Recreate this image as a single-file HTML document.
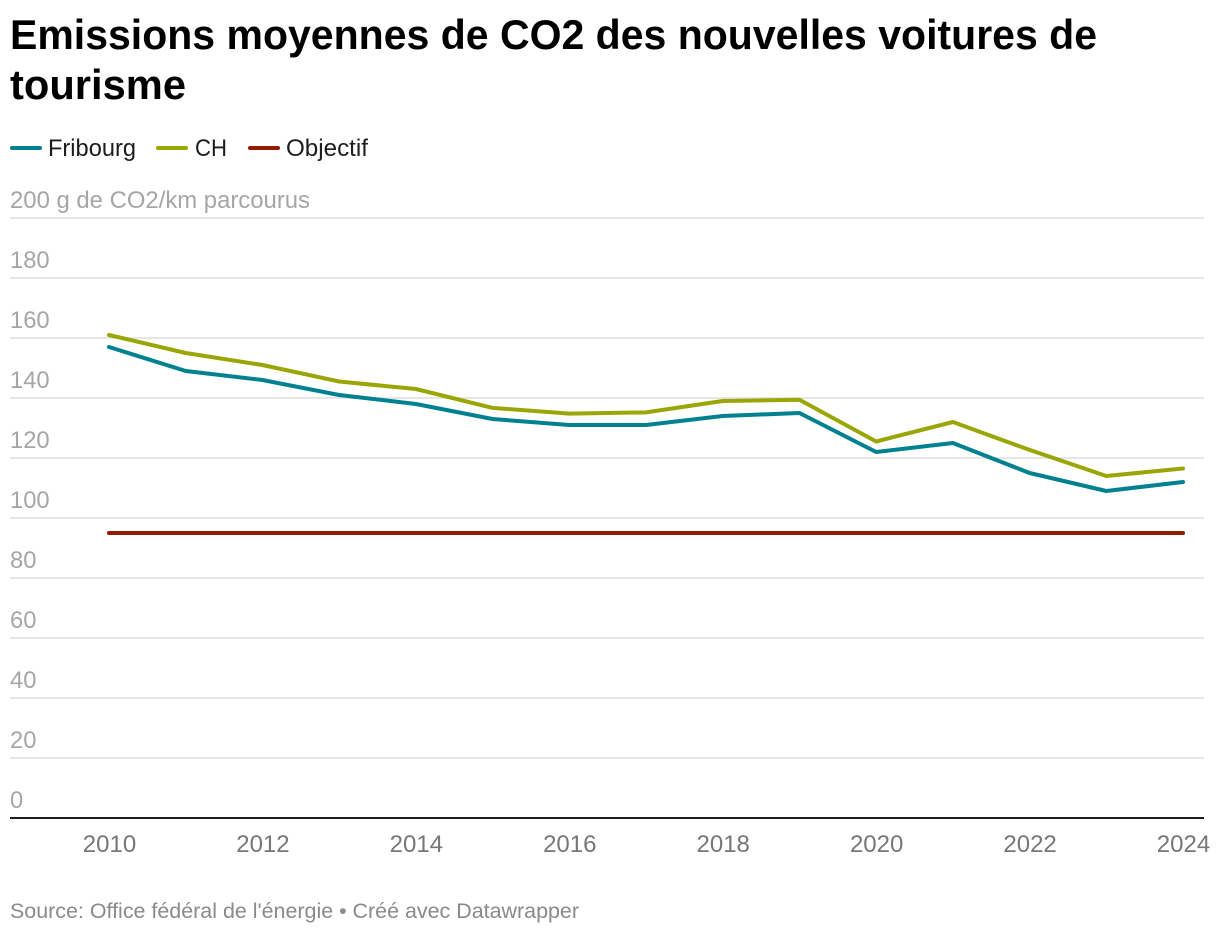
<!DOCTYPE html>
<html lang="fr">
<head>
<meta charset="utf-8">
<title>Emissions moyennes de CO2 des nouvelles voitures de tourisme</title>
<style>
html,body{margin:0;padding:0;background:#fff;width:1220px;height:934px;overflow:hidden}
svg{display:block;font-family:"Liberation Sans",sans-serif}
</style>
</head>
<body>
<svg id="chart" xmlns="http://www.w3.org/2000/svg" width="1220" height="934" viewBox="0 0 1220 934">
  <text x="10" y="49" font-size="42" font-weight="700" fill="#000" textLength="1087" lengthAdjust="spacingAndGlyphs">Emissions moyennes de CO2 des nouvelles voitures de</text>
  <text x="10" y="99" font-size="42" font-weight="700" fill="#000" textLength="176" lengthAdjust="spacingAndGlyphs">tourisme</text>

  <g>
    <line x1="12" y1="148" x2="40" y2="148" stroke="#00818f" stroke-width="4" stroke-linecap="round"/>
    <text x="48" y="156" font-size="24" fill="#1d1d1d" textLength="88" lengthAdjust="spacingAndGlyphs">Fribourg</text>
    <line x1="158" y1="148" x2="186" y2="148" stroke="#99a606" stroke-width="4" stroke-linecap="round"/>
    <text x="195" y="156" font-size="24" fill="#1d1d1d" textLength="32" lengthAdjust="spacingAndGlyphs">CH</text>
    <line x1="250" y1="148" x2="278" y2="148" stroke="#911d00" stroke-width="4" stroke-linecap="round"/>
    <text x="286" y="156" font-size="24" fill="#1d1d1d" textLength="82" lengthAdjust="spacingAndGlyphs">Objectif</text>
  </g>

  <g id="grid"></g>
  <g id="yLabels"></g>
  <text x="10" y="208" font-size="24" fill="#a6a6a6" textLength="300" lengthAdjust="spacingAndGlyphs">200 g de CO2/km parcourus</text>
  <g id="series"></g>
  <line x1="10" y1="818" x2="1204" y2="818" stroke="#1d1d1d" stroke-width="2"/>
  <g id="xLabels"></g>

  <text x="10" y="918" font-size="21.5" fill="#8a8a8a" textLength="569" lengthAdjust="spacingAndGlyphs">Source: Office fédéral de l'énergie • Créé avec Datawrapper</text>
</svg>
<script>
const years = [2010,2011,2012,2013,2014,2015,2016,2017,2018,2019,2020,2021,2022,2023,2024];
const fribourg = [157,149,146,141,138,133,131,131,134,135,122,125,115,109,112];
const ch = [161,155,151,145.5,143,136.7,134.8,135.2,139,139.4,125.5,132,122.7,114,116.5];
const objectif = [95,95,95,95,95,95,95,95,95,95,95,95,95,95,95];
const yTicks = [20,40,60,80,100,120,140,160,180,200];
const yLabelTicks = [0,20,40,60,80,100,120,140,160,180];
const xTicks = [2010,2012,2014,2016,2018,2020,2022,2024];

const NS = 'http://www.w3.org/2000/svg';
const xScale = v => 109 + (v - 2010) * (1183 - 109) / 14;
const yScale = v => 818 - v * 3;

const grid = document.getElementById('grid');
yTicks.forEach(t => {
  const l = document.createElementNS(NS, 'line');
  
  
  l.setAttribute('x1', 10);
  l.setAttribute('x2', 1204);
  l.setAttribute('y1', yScale(t));
  l.setAttribute('y2', yScale(t));
  l.setAttribute('stroke', '#e6e6e6');
  l.setAttribute('stroke-width', 2);
  grid.appendChild(l);
});

const yLabels = document.getElementById('yLabels');
yLabelTicks.forEach(t => {
  const s = document.createElementNS(NS, 'text');
  
  
  s.setAttribute('x', 10);
  s.setAttribute('y', yScale(t) - 10);
  s.setAttribute('font-size', 24);
  s.setAttribute('fill', '#a6a6a6');
  s.setAttribute('textLength', String(t).length * 13.2);
  s.setAttribute('lengthAdjust', 'spacingAndGlyphs');
  s.textContent = t;
  yLabels.appendChild(s);
});

const xLabels = document.getElementById('xLabels');
xTicks.forEach(t => {
  const s = document.createElementNS(NS, 'text');
  
  
  s.setAttribute('x', xScale(t) + 0.5);
  s.setAttribute('y', 852);
  s.setAttribute('font-size', 24);
  s.setAttribute('fill', '#777777');
  s.setAttribute('text-anchor', 'middle');
  s.textContent = t;
  xLabels.appendChild(s);
});

const seriesGroup = document.getElementById('series');
function drawLine(values, color, name) {
  const p = document.createElementNS(NS, 'path');
  
  
  p.setAttribute('d', values.map((v, i) => (i ? 'L' : 'M') + xScale(years[i]).toFixed(2) + ' ' + yScale(v).toFixed(2)).join(' '));
  p.setAttribute('fill', 'none');
  p.setAttribute('stroke', color);
  p.setAttribute('stroke-width', 4);
  p.setAttribute('stroke-linecap', 'round');
  p.setAttribute('stroke-linejoin', 'round');
  seriesGroup.appendChild(p);
}
drawLine(objectif, '#911d00', 'line-objectif');
drawLine(ch, '#99a606', 'line-ch');
drawLine(fribourg, '#00818f', 'line-fribourg');
</script>
</body>
</html>
